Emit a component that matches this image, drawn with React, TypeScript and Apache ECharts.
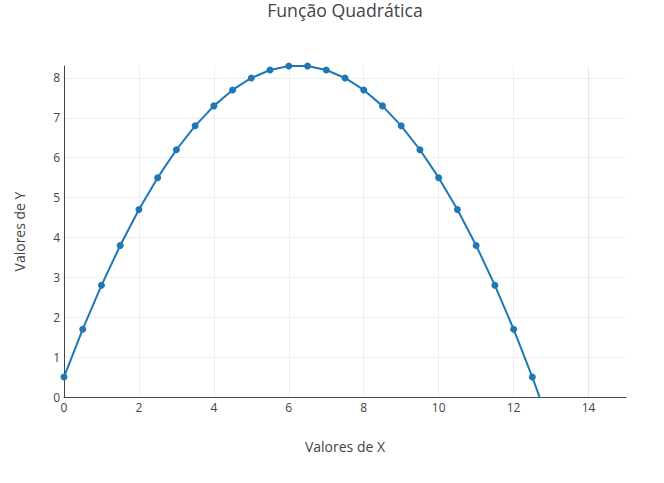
import React, { useEffect, useRef } from "react";
import * as echarts from "echarts";

const xValues = [0, 0.5, 1, 1.5, 2, 2.5, 3, 3.5, 4, 4.5, 5, 5.5, 6, 6.5, 7, 7.5, 8, 8.5, 9, 9.5, 10, 10.5, 11, 11.5, 12, 12.5, 13];
const yValues = [0.5, 1.7, 2.8, 3.8, 4.7, 5.5, 6.2, 6.8, 7.3, 7.7, 8.0, 8.2, 8.3, 8.3, 8.2, 8.0, 7.7, 7.3, 6.8, 6.2, 5.5, 4.7, 3.8, 2.8, 1.7, 0.5, -0.8];
const titleText = "Função Quadrática";
const xTitle = "Valores de X";
const yTitle = "Valores de Y";

const FONT = "'Open Sans', 'Noto Sans', sans-serif";

export default function App() {
  const ref = useRef<HTMLDivElement>(null);
  useEffect(() => {
    if (!ref.current) return;
    const chart = echarts.init(ref.current, undefined, { renderer: "svg" });
    const data = xValues.map((x, i) => [x, yValues[i]]);
    chart.setOption({
      animation: false,
      backgroundColor: "#fff",
      title: {
        text: titleText,
        left: 345,
        textAlign: "center",
        top: 1,
        padding: 0,
        textStyle: { fontFamily: FONT, fontSize: 17.7, lineHeight: 18, fontWeight: "normal", color: "#444" },
      },
      grid: { left: 64, right: 38, top: 66, bottom: 86, containLabel: false },
      xAxis: {
        type: "value",
        min: 0,
        max: 15,
        interval: 2,
        name: xTitle,
        nameLocation: "middle",
        nameGap: 42,
        nameTextStyle: { fontFamily: FONT, fontSize: 14, color: "#444" },
        axisLine: { show: true, onZero: false, lineStyle: { color: "#444", width: 1 } },
        axisTick: { show: false },
        axisLabel: { showMaxLabel: false, fontFamily: FONT, fontSize: 12, color: "#444", margin: 4 },
        splitLine: {
          show: true,
          lineStyle: {
            color: ["#eee", "#eee", "#eee", "#eee", "#eee", "#eee", "#eee", "#e6e6e6", "rgba(0,0,0,0)"],
            width: 1,
          },
        },
      },
      yAxis: {
        type: "value",
        min: 0,
        max: 8.3,
        interval: 1,
        name: yTitle,
        nameLocation: "middle",
        nameGap: 38,
        nameTextStyle: { fontFamily: FONT, fontSize: 14, color: "#444" },
        axisLine: { show: true, onZero: false, lineStyle: { color: "#444", width: 1 } },
        axisTick: { show: false },
        axisLabel: { showMaxLabel: false, fontFamily: FONT, fontSize: 12, color: "#444", margin: 4 },
        splitLine: {
          show: true,
          lineStyle: {
            color: ["#eee", "#eee", "#eee", "#eee", "#eee", "#eee", "#eee", "#eee", "#eee", "rgba(0,0,0,0)"],
            width: 1,
          },
        },
      },
      series: [
        {
          type: "line",
          data,
          clip: true,
          smooth: false,
          symbol: "circle",
          symbolSize: 7,
          showAllSymbol: true,
          lineStyle: { color: "#1f77b4", width: 2 },
          itemStyle: { color: "#1f77b4" },
        },
      ],
    });
    return () => chart.dispose();
  }, []);
  return <div ref={ref} style={{ width: 664, height: 483, position: "absolute", left: 0, top: 0 }} />;
}
